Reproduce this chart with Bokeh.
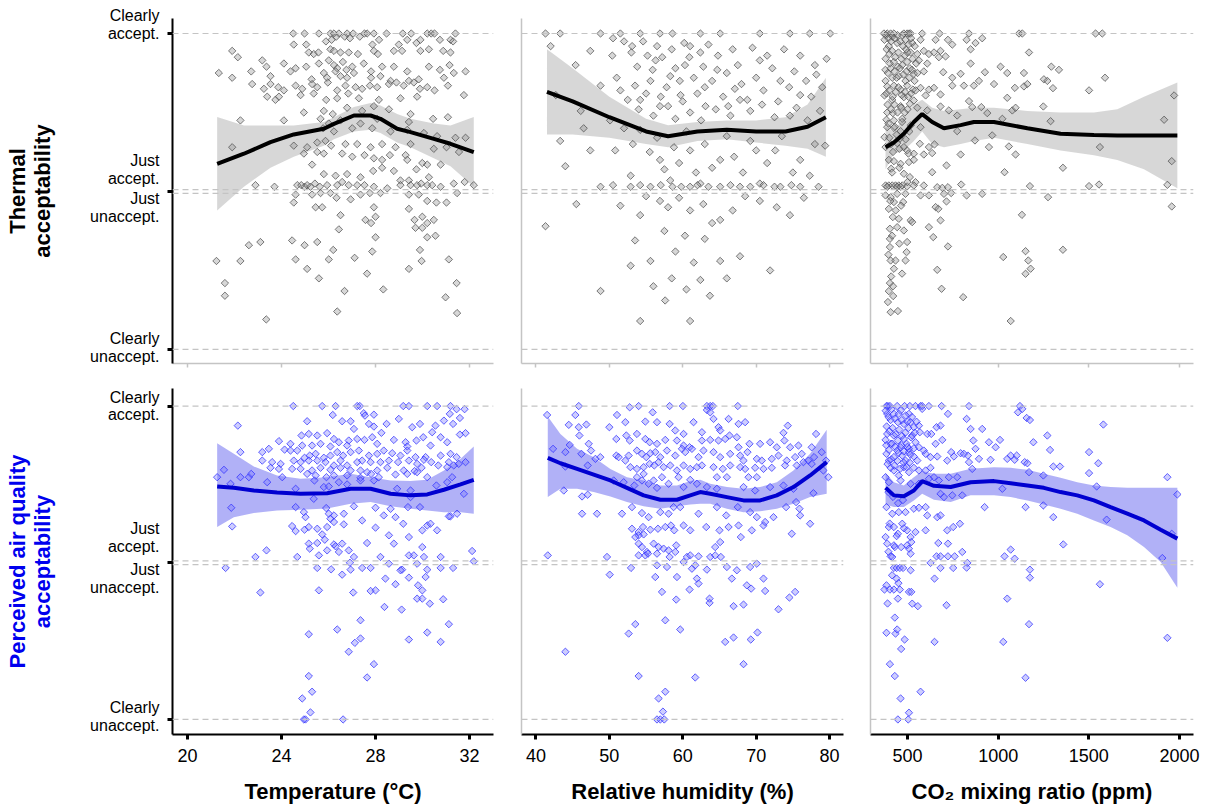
import math
from bokeh.plotting import figure
from bokeh.layouts import column, row
from bokeh.models import Range1d, LinearAxis, FixedTicker, Span
from bokeh.embed import file_html
from bokeh.resources import INLINE

FONT = "Liberation Sans"

# ---------------- data ----------------
temp_ticks = [20, 24, 28, 32]
rh_ticks = [40, 50, 60, 70, 80]
co2_ticks = [500, 1000, 1500, 2000]
x_titles = ["Temperature (°C)", "Relative humidity (%)", "CO₂ mixing ratio (ppm)"]
row_titles = ["Thermal\nacceptability", "Perceived air quality\nacceptability"]
level_labels = ["Clearly\naccept.", "Just\naccept.", "Just\nunaccept.", "Clearly\nunaccept."]
level_values = [1.0, 0.0, -1.0]
ref_levels = [1.0, 0.012, -0.012, -1.0]

# Top-left: temperature vs thermal acceptability
tl_pts = [(24.50,1.0),(24.98,1.0),(25.59,1.0),(26.08,1.0),(26.23,1.0),(26.44,1.0),(26.79,1.0),(27.05,1.0),(27.53,1.0),(27.64,1.0),(27.93,1.0),(28.47,1.0),(29.16,1.0),(29.52,1.0),(30.20,1.0),(30.37,1.0),(30.51,1.0),(31.40,1.0),
(24.52,0.93),(25.05,0.93),(25.89,0.95),(26.13,0.96),(26.33,0.98),(26.69,0.98),(26.91,0.97),(27.33,0.98),(27.87,0.93),(28.15,0.96),(28.99,0.93),(29.35,0.96),(29.74,0.94),(29.91,0.96),(30.74,0.96),(31.19,0.96),(31.30,0.95),
(21.90,0.89),(22.14,0.85),(25.16,0.88),(25.37,0.87),(25.57,0.88),(26.08,0.90),(26.23,0.89),(26.51,0.88),(26.86,0.88),(27.25,0.87),(27.93,0.89),(28.10,0.87),(28.78,0.89),(29.13,0.89),(29.91,0.89),(30.27,0.90),(30.88,0.89),(31.19,0.88),
(23.18,0.83),(23.36,0.79),(24.10,0.81),(24.60,0.78),(25.05,0.79),(25.59,0.81),(26.01,0.83),(26.23,0.80),(26.37,0.78),(26.61,0.82),(26.76,0.77),(27.01,0.79),(27.50,0.81),(27.81,0.76),(28.28,0.79),(28.78,0.79),(29.35,0.76),(30.27,0.79),(30.74,0.77),(31.15,0.80),
(21.33,0.75),(21.90,0.72),(22.71,0.76),(23.53,0.73),(24.38,0.76),(25.28,0.71),(25.80,0.75),(25.94,0.72),(26.30,0.76),(26.51,0.73),(26.79,0.72),(27.08,0.75),(27.81,0.72),(28.21,0.73),(28.64,0.70),(29.42,0.70),(29.84,0.71),(30.91,0.72),(31.33,0.75),(31.83,0.76),
(22.75,0.68),(23.25,0.65),(23.53,0.68),(23.86,0.66),(24.10,0.64),(24.60,0.67),(24.88,0.65),(25.30,0.68),(25.52,0.66),(25.97,0.69),(26.37,0.64),(26.72,0.67),(27.15,0.66),(27.43,0.65),(27.76,0.67),(28.07,0.66),(28.57,0.68),(28.89,0.69),(29.20,0.67),(29.63,0.69),(29.89,0.65),(30.20,0.66),(30.51,0.64),(31.08,0.67),
(23.39,0.60),(23.74,0.58),(23.89,0.60),(24.81,0.61),(25.37,0.62),(25.90,0.58),(26.37,0.59),(26.84,0.62),(27.29,0.59),(28.14,0.58),(29.06,0.59),(29.77,0.60),(31.76,0.61),
(24.95,0.50),(25.80,0.51),(26.18,0.49),(26.79,0.53),(27.43,0.51),(27.93,0.54),(28.57,0.52),(29.49,0.49),
(22.25,0.45),(24.10,0.45),(25.66,0.46),(26.01,0.43),(26.51,0.45),(27.36,0.43),(28.07,0.46),(29.42,0.44),(30.45,0.46),(31.08,0.47),
(25.77,0.40),(26.23,0.38),(27.01,0.40),(27.86,0.40),(28.64,0.38),(29.35,0.39),(30.06,0.37),(30.62,0.35),(31.40,0.34),(31.83,0.34),
(21.90,0.28),(24.52,0.29),(25.09,0.28),(25.52,0.31),(25.87,0.32),(26.11,0.29),(26.72,0.30),(27.22,0.30),(27.79,0.28),(28.28,0.30),(28.85,0.28),(29.49,0.30),(30.48,0.27),(31.02,0.28),
(24.95,0.24),(25.52,0.25),(25.80,0.24),(26.58,0.24),(27.01,0.22),(27.53,0.23),(27.93,0.21),(28.28,0.20),(28.61,0.23),(29.28,0.23),(29.35,0.20),(29.99,0.18),(30.20,0.17),(30.77,0.17),(31.55,0.25),
(25.30,0.17),(25.80,0.11),(26.30,0.10),(26.79,0.11),(27.36,0.09),(27.90,0.13),(28.28,0.15),(28.78,0.13),(29.06,0.07),(29.42,0.07),(29.74,0.14),(30.27,0.09),
(22.89,0.04),(23.70,0.03),(24.67,0.04),(24.84,0.04),(24.98,0.03),(25.09,0.04),(25.23,0.03),(25.42,0.05),(25.63,0.03),(25.94,0.04),(26.37,0.04),(26.58,0.06),(26.86,0.04),(27.22,0.04),(27.53,0.04),(27.93,0.03),(28.50,0.02),(29.06,0.04),(29.49,0.04),(29.77,0.04),(29.94,0.05),(30.20,0.04),(30.41,0.04),(30.77,0.03),(31.33,0.05),(31.79,0.06),(32.18,0.04),
(24.60,-0.02),(24.52,-0.07),(25.30,-0.02),(25.66,-0.01),(26.08,-0.01),(26.34,-0.04),(26.94,-0.05),(27.36,-0.02),(27.76,-0.01),(28.21,-0.01),(29.42,-0.02),(29.84,-0.02),(30.20,-0.06),(30.59,-0.07),(31.02,-0.07),(31.47,-0.01),
(25.45,-0.10),(25.73,-0.10),(26.51,-0.15),(27.57,-0.18),(27.81,-0.20),(28.00,-0.16),(27.93,-0.10),(29.42,-0.11),(29.66,-0.18),(29.99,-0.16),(30.20,-0.20),(29.70,-0.23),(29.99,-0.23),(30.48,-0.18),(26.44,-0.24),
(22.61,-0.34),(23.10,-0.32),(24.45,-0.31),(24.98,-0.34),(25.52,-0.32),(26.20,-0.37),(26.01,-0.43),(27.11,-0.42),(27.86,-0.38),(28.00,-0.29),(29.89,-0.37),(30.20,-0.29),(30.55,-0.28),(21.23,-0.44),(22.25,-0.44),(24.60,-0.43),(25.09,-0.49),(25.59,-0.55),(27.64,-0.52),(29.42,-0.49),(29.96,-0.44),(31.12,-0.43),
(21.59,-0.58),(21.59,-0.66),(23.35,-0.81),(26.68,-0.63),(26.37,-0.76),(28.33,-0.62),(30.98,-0.67),(31.45,-0.58),(31.47,-0.77)]
tl_cx = [21.26, 22.4, 23.53, 24.52, 25.8, 26.23, 27.08, 27.79, 28.21, 28.92, 29.49, 30.48, 31.19, 32.18]
tl_fit = [0.175, 0.239, 0.312, 0.361, 0.397, 0.428, 0.481, 0.481, 0.46, 0.397, 0.376, 0.333, 0.302, 0.249]
tl_hi = [0.471, 0.418, 0.418, 0.418, 0.44, 0.47, 0.534, 0.56, 0.545, 0.49, 0.46, 0.43, 0.418, 0.471]
tl_lo = [-0.12, 0.03, 0.15, 0.22, 0.29, 0.33, 0.38, 0.39, 0.37, 0.31, 0.28, 0.21, 0.16, 0.03]

# Top-middle: relative humidity vs thermal acceptability
tm_pts = [(41.3,1.0),(43.3,1.0),(48.8,1.0),(51.5,1.0),(54.2,1.0),(56.9,1.0),(58.6,1.0),(62.4,1.0),(65.1,1.0),(70.5,1.0),(74.6,1.0),(77.3,1.0),(80.1,1.0),
(42.0,0.92),(45.4,0.80),(47.4,0.89),(50.4,0.86),(53.1,0.92),(56.3,0.83),(58.3,0.73),(60.3,0.80),(62.4,0.88),(64.7,0.77),(67.1,0.65),(70.5,0.83),(73.3,0.70),(76.0,0.61),(78.0,0.80),(78.7,0.51),(42.7,0.61),(46.1,0.51),(48.8,0.67),(51.5,0.64),(54.2,0.58),(56.9,0.54),(59.7,0.61),(63.1,0.54),(66.2,0.54),(69.2,0.51),(74.6,0.48),(50.1,0.45),(55.6,0.70),(61.0,0.92),
(50.5,0.97),(52.0,0.95),(53.0,0.88),(53.8,0.79),(54.6,0.95),(55.2,0.86),(55.9,0.77),(56.5,0.92),(57.2,0.85),(57.8,0.66),(58.5,0.90),(59.0,0.78),(59.6,0.70),(60.2,0.94),(60.9,0.85),(61.5,0.72),(62.0,0.62),(62.8,0.79),(63.5,0.93),(64.0,0.70),(64.8,0.86),(65.5,0.60),(66.0,0.75),(66.8,0.90),(67.5,0.80),(68.0,0.68),(68.8,0.58),(69.5,0.91),(70.0,0.72),(71.0,0.64),(71.5,0.86),(72.2,0.78),(73.0,0.57),(73.8,0.90),(74.5,0.66),(75.2,0.76),(76.0,0.86),(76.8,0.70),(77.5,0.60),(78.2,0.74),(79.0,0.66),(79.6,0.84),
(51.0,0.72),(52.5,0.58),(53.5,0.67),(54.0,0.52),(55.0,0.62),(56.0,0.48),(57.0,0.60),(58.0,0.54),(59.0,0.46),(60.0,0.57),(61.0,0.50),(62.5,0.45),(63.0,0.66),(64.5,0.52),(66.5,0.48),(67.8,0.58),(70.8,0.55),(72.5,0.47),(75.5,0.53),(77.0,0.45),
(43.3,0.32),(47.4,0.26),(50.8,0.26),(54.2,0.39),(56.9,0.20),(61.0,0.26),(65.1,0.20),(69.2,0.32),(72.6,0.26),(76.0,0.20),(79.4,0.29),(52.9,0.10),(58.3,0.07),(62.4,0.05),(70.5,0.05),(77.3,0.10),
(52.0,0.40),(53.2,0.30),(55.5,0.25),(56.5,0.34),(57.5,0.14),(58.8,0.28),(59.5,0.18),(60.5,0.38),(61.8,0.12),(63.0,0.30),(64.0,0.15),(66.0,0.35),(67.0,0.22),(68.2,0.12),(70.0,0.26),(71.5,0.18),(73.5,0.35),(75.0,0.12),(78.0,0.30),(46.5,0.40),(44.0,0.16),
(48.8,0.03),(52.9,0.03),(55.6,0.03),(58.6,0.03),(61.0,0.03),(65.1,0.03),(69.2,0.03),(73.3,0.03),(76.0,0.03),(54.2,0.04),(57.0,0.04),(59.8,0.03),(62.0,0.04),(63.5,0.03),(66.5,0.04),(67.8,0.03),(71.0,0.04),(72.5,0.03),(74.8,0.04),(78.5,0.03),(50.5,0.04),
(41.3,-0.22),(51.5,-0.09),(54.2,-0.15),(56.9,-0.06),(61.0,-0.12),(65.1,-0.18),(70.5,-0.06),(74.6,-0.15),(53.5,-0.31),(55.6,-0.44),(60.3,-0.28),(62.4,-0.56),(67.8,-0.41),(71.9,-0.50),(52.9,-0.47),(57.6,-0.69),(61.0,-0.82),(63.7,-0.66),(54.2,-0.82),(48.8,-0.63),(65.1,-0.44),
(55.0,-0.03),(58.0,-0.10),(59.5,-0.04),(62.8,-0.08),(64.0,-0.20),(66.8,-0.12),(68.5,-0.03),(72.8,-0.10),(76.5,-0.04),(57.5,-0.25),(59.0,-0.38),(61.5,-0.45),(63.0,-0.30),(58.5,-0.55),(60.5,-0.62),(56.0,-0.60),(66.0,-0.55),(45.5,-0.08)]
tm_cx = [41.5, 45, 50, 55, 58, 62, 66, 70, 74, 77, 79.5]
tm_fit = [0.63, 0.57, 0.47, 0.38, 0.35, 0.38, 0.39, 0.38, 0.38, 0.41, 0.47]
tm_hi = [0.90, 0.78, 0.60, 0.46, 0.42, 0.44, 0.45, 0.45, 0.47, 0.55, 0.72]
tm_lo = [0.36, 0.36, 0.34, 0.30, 0.28, 0.32, 0.33, 0.31, 0.29, 0.27, 0.22]

# Top-right: CO2 vs thermal acceptability
tr_pts = [(370,1.0),(388,1.0),(407,1.0),(425,1.0),(480,1.0),(498,1.0),(517,1.0),(581,1.0),(677,1.0),(839,1.0),(1115,1.0),(1133,1.0),(1537,1.0),(1574,1.0),
(373,0.96),(397,0.92),(416,0.98),(443,0.94),(471,0.99),(489,0.96),(508,1.0),(526,0.94),(572,0.96),(517,0.88),(554,0.87),(590,0.89),(618,0.87),(646,0.88),(682,0.89),(710,0.855),(655,0.96),(723,0.96),(747,0.93),(826,0.96),(875,0.94),(848,0.90),(912,0.97),(1170,0.88),
(379,0.84),(403,0.81),(425,0.82),(447,0.79),(471,0.80),(498,0.82),(513,0.78),(535,0.745),(563,0.83),(590,0.76),(609,0.81),(673,0.85),(848,0.81),(697,0.755),(747,0.72),(793,0.745),(1013,0.79),(1050,0.75),(1142,0.75),(1293,0.79),(1335,0.77),(1589,0.72),(379,0.70),(416,0.72),(452,0.73),(489,0.70),(539,0.70),(894,0.70),(927,0.755),(1252,0.71),(1271,0.70),
(388,0.665),(425,0.67),(462,0.645),(498,0.67),(530,0.645),(572,0.656),(618,0.645),(646,0.656),(682,0.614),(747,0.67),(811,0.67),(866,0.67),(977,0.68),(1092,0.656),(1142,0.665),(1161,0.68),(1302,0.654),(1501,0.64),(373,0.608),(416,0.58),(480,0.597),(535,0.576),(600,0.608),(1050,0.593),
(388,0.50),(419,0.496),(462,0.54),(513,0.555),(554,0.53),(609,0.513),(682,0.538),(728,0.513),(774,0.481),(839,0.572),(857,0.534),(907,0.534),(940,0.496),(1023,0.46),(1078,0.513),(1096,0.53),(1249,0.538),(1289,0.445),(384,0.454),(425,0.45),(471,0.46),(1915,0.454),
(388,0.407),(425,0.403),(462,0.382),(517,0.418),(572,0.407),(774,0.382),(967,0.355),(373,0.344),(458,0.334),(1970,0.608),
(379,0.281),(407,0.298),(443,0.306),(480,0.281),(498,0.26),(535,0.239),(568,0.302),(618,0.281),(649,0.298),(590,0.234),(636,0.243),(793,0.234),(872,0.323),(949,0.281),(1059,0.285),(1096,0.234),(1561,0.281),(397,0.20),(425,0.192),(462,0.175),(508,0.186),(535,0.20),(1957,0.192),
(410,0.144),(480,0.112),(513,0.091),(544,0.059),(636,0.122),(715,0.165),(1035,0.122),(1357,0.15),(379,0.038),(397,0.038),(416,0.038),(434,0.038),(452,0.038),(471,0.038),(498,0.032),(535,0.038),(590,0.038),(664,0.027),(692,0.023),(723,0.027),(796,0.044),(1175,0.034),(1501,0.034),(1556,0.044),(1933,0.042),(388,0.03),(443,0.03),(462,0.03),
(379,-0.025),(407,-0.036),(443,-0.015),(489,-0.015),(572,-0.025),(618,-0.025),(701,-0.015),(741,-0.01),(826,-0.025),(912,-0.015),(1275,-0.036),(397,-0.11),(425,-0.067),(476,-0.067),(655,-0.099),(715,-0.063),(670,-0.11),(1957,-0.095),
(419,-0.162),(452,-0.173),(517,-0.183),(526,-0.194),(403,-0.236),(443,-0.226),(480,-0.247),(618,-0.226),(682,-0.183),(642,-0.289),(1131,-0.148),
(403,-0.30),(403,-0.352),(498,-0.32),(495,-0.384),(723,-0.348),(1357,-0.369),(407,-0.437),(434,-0.437),(489,-0.437),(425,-0.489),(664,-0.496),(1028,-0.415),(1151,-0.378),(1166,-0.437),(1179,-0.489),
(410,-0.538),(403,-0.58),(397,-0.631),(421,-0.662),(688,-0.616),(807,-0.669),(1151,-0.521),(407,-0.764),(447,-0.757),(1069,-0.82),
(382,0.99),(395,0.97),(410,0.95),(430,0.97),(445,0.99),(460,0.95),(475,0.92),(492,0.90),(505,0.93),(520,0.97),(540,0.92),(385,0.90),(400,0.87),(415,0.89),(432,0.85),(450,0.88),(466,0.84),(485,0.86),(500,0.88),(528,0.84),(548,0.81),(378,0.77),(392,0.75),(408,0.78),(428,0.76),(440,0.72),(458,0.78),(478,0.74),(495,0.76),(510,0.72),(525,0.77),(555,0.75),(384,0.62),(400,0.64),(418,0.60),(436,0.63),(450,0.66),(468,0.61),(486,0.63),(505,0.60),(520,0.62),(545,0.64),(390,0.55),(410,0.52),(428,0.55),(445,0.50),(465,0.53),(485,0.50),(500,0.52),(395,0.43),(430,0.41),(470,0.44),(510,0.38),(400,0.34),(440,0.36),(490,0.33),(420,0.25),(455,0.27),(505,0.24),(415,0.12),(455,0.15),(500,0.06),(405,-0.06),(435,-0.12),(465,-0.09),(415,-0.28),(455,-0.33),(395,-0.40),(470,-0.52),(420,-0.60),(392,-0.70)]
tr_cx = [379, 425, 480, 535, 581, 636, 701, 793, 866, 977, 1161, 1344, 1528, 1657, 1804, 1988]
tr_fit = [0.28, 0.31, 0.365, 0.44, 0.49, 0.44, 0.40, 0.42, 0.44, 0.44, 0.40, 0.365, 0.357, 0.355, 0.355, 0.355]
tr_hi = [0.41, 0.38, 0.47, 0.55, 0.58, 0.53, 0.51, 0.52, 0.53, 0.53, 0.51, 0.50, 0.50, 0.52, 0.60, 0.69]
tr_lo = [0.14, 0.24, 0.26, 0.32, 0.38, 0.30, 0.28, 0.30, 0.32, 0.34, 0.30, 0.26, 0.23, 0.20, 0.14, 0.02]

# Bottom-left: temperature vs perceived air quality acceptability
bl_pts = [(24.5,1.0),(25.73,1.0),(26.3,1.0),(27.22,1.0),(27.33,1.0),(29.18,1.0),(29.42,1.0),(30.2,1.0),(30.62,1.0),(31.19,1.0),(31.79,0.98),
(22.14,0.875),(25.09,0.903),(26.18,0.943),(26.58,0.903),(26.94,0.903),(27.5,0.954),(27.93,0.945),(27.55,0.939),(27.08,0.854),(27.72,0.886),(27.93,0.869),(28.47,0.886),(28.99,0.918),(29.56,0.865),(29.89,0.886),(30.55,0.875),(30.91,0.907),(31.16,0.95),(31.3,0.886),(31.59,0.924),(31.45,0.98),
(23.89,0.776),(24.85,0.812),(25.16,0.822),(25.52,0.812),(25.94,0.827),(26.23,0.79),(26.44,0.769),(26.86,0.78),(27.22,0.79),(27.53,0.784),(27.86,0.801),(28.25,0.829),(28.78,0.784),(29.28,0.769),(29.74,0.78),(30.03,0.801),(30.41,0.833),(30.77,0.801),(31.05,0.769),(31.59,0.818),(31.83,0.827),(24.38,0.759),(24.88,0.748),(25.3,0.748),(25.66,0.759),(26.08,0.742),(26.79,0.748),(28.07,0.759),(29.35,0.742),(30.34,0.748),
(22.25,0.706),(23.18,0.706),(23.46,0.727),(24.13,0.722),(24.38,0.716),(24.67,0.716),(24.98,0.67),(25.2,0.684),(25.45,0.695),(25.8,0.67),(26.08,0.684),(26.37,0.706),(26.62,0.684),(26.94,0.706),(27.29,0.716),(27.72,0.684),(28.07,0.695),(28.35,0.716),(28.71,0.699),(29.06,0.684),(29.35,0.716),(29.7,0.674),(30.13,0.674),(30.77,0.684),(31.19,0.695),(31.45,0.674),
(23.18,0.652),(23.6,0.642),(23.96,0.631),(24.52,0.652),(24.81,0.642),(25.16,0.652),(25.52,0.652),(25.87,0.642),(26.23,0.621),(26.51,0.652),(26.79,0.621),(27.22,0.642),(27.43,0.652),(27.79,0.642),(28.21,0.642),(28.57,0.652),(28.96,0.642),(29.42,0.652),(29.77,0.631),(30.06,0.657),(30.37,0.642),(30.67,0.621),(31.12,0.642),(31.54,0.631),(31.83,0.642),
(21.55,0.593),(22.25,0.546),(22.61,0.546),(23.53,0.606),(23.89,0.599),(24.45,0.599),(24.81,0.599),(25.3,0.589),(25.66,0.606),(26.08,0.593),(26.51,0.606),(26.94,0.589),(27.36,0.589),(27.64,0.578),(28.07,0.589),(28.5,0.606),(28.85,0.563),(29.2,0.589),(29.66,0.585),(29.96,0.606),(31.05,0.61),(31.33,0.621),(21.26,0.546),(24.03,0.546),(25.09,0.567),(25.45,0.557),(25.91,0.546),(26.23,0.557),(26.79,0.557),(27.36,0.542),(27.81,0.567),(28.14,0.546),(29.35,0.567),(29.77,0.578),(30.2,0.546),(31.26,0.546),
(23.39,0.514),(24.6,0.472),(25.4,0.525),(25.8,0.483),(26.01,0.487),(26.44,0.514),(26.79,0.5),(27.36,0.525),(27.93,0.525),(28.92,0.472),(29.49,0.461),(30.59,0.493),(31.05,0.514),(31.76,0.44),(21.83,0.504),(22.71,0.567),
(21.86,0.351),(24.6,0.355),(24.95,0.323),(25.37,0.408),(25.9,0.349),(26.01,0.313),(26.23,0.302),(26.65,0.313),(27.08,0.36),(28.0,0.351),(28.35,0.302),(28.64,0.344),(28.85,0.291),(29.38,0.355),(29.49,0.419),(29.89,0.355),(31.19,0.296),(31.47,0.313),(25.02,0.291),(26.08,0.281),
(21.9,0.232),(24.45,0.234),(24.6,0.202),(24.98,0.211),(25.16,0.228),(25.52,0.217),(25.73,0.181),(25.94,0.228),(26.23,0.26),(26.65,0.245),(27.43,0.27),(27.64,0.126),(28.0,0.224),(28.57,0.175),(28.78,0.122),(29.18,0.249),(29.42,0.164),(29.99,0.207),(30.2,0.238),(30.34,0.249),(30.62,0.207),(31.12,0.296),
(25.16,0.122),(25.52,0.126),(25.84,0.147),(26.23,0.117),(26.58,0.122),(26.86,0.079),(25.2,0.09),(25.59,0.047),(25.94,0.079),(26.3,0.105),(26.44,0.069),(27.08,0.037),(28.21,0.037),(29.42,0.047),(29.63,0.047),(29.99,0.1),(30.06,0.037),(30.77,0.037),(32.11,0.075),(22.89,0.037),(23.36,0.079),(24.67,0.037),
(21.62,-0.033),(25.52,-0.033),(26.11,-0.042),(26.58,-0.076),(26.91,0.0),(26.94,-0.044),(27.43,-0.033),(27.79,-0.033),(28.57,-0.006),(29.13,-0.044),(29.77,-0.006),(30.2,-0.044),(30.77,-0.033),(31.3,-0.033),(32.18,0.009),
(23.1,-0.19),(25.59,-0.176),(27.05,-0.19),(27.79,-0.18),(28.0,-0.176),(28.42,-0.101),(28.38,-0.282),(28.85,-0.137),(29.11,-0.299),(29.42,-0.095),(29.81,-0.144),(29.99,-0.176),(29.77,-0.229),(29.99,-0.229),(30.13,-0.091),(30.31,-0.261),(30.88,-0.233),(29.06,-0.048),
(25.16,-0.456),(26.37,-0.426),(27.36,-0.367),(27.12,-0.511),(27.36,-0.483),(26.86,-0.568),(29.42,-0.49),(30.2,-0.445),(30.77,-0.505),(31.12,-0.392),(27.93,-0.647),(27.64,-0.732),
(25.16,-0.723),(25.3,-0.823),(24.88,-0.866),(25.23,-0.955),(24.95,-1.0),(25.02,-1.0),(26.62,-1.0)]
bl_cx = [21.26, 21.97, 22.82, 23.81, 24.81, 25.94, 26.94, 27.79, 28.64, 29.49, 30.2, 30.91, 31.62, 32.18]
bl_fit = [0.487, 0.478, 0.461, 0.449, 0.44, 0.444, 0.472, 0.472, 0.44, 0.43, 0.436, 0.466, 0.5, 0.529]
bl_hi = [0.763, 0.695, 0.614, 0.557, 0.536, 0.546, 0.568, 0.546, 0.525, 0.521, 0.529, 0.589, 0.663, 0.742]
bl_lo = [0.228, 0.291, 0.317, 0.334, 0.338, 0.347, 0.376, 0.387, 0.36, 0.345, 0.334, 0.323, 0.323, 0.313]

# Bottom-middle: relative humidity vs perceived air quality acceptability
bm_pts = [(45.83,1.0),(53.99,1.0),(58.21,1.0),(60.02,1.0),(63.29,1.0),(63.74,1.0),(64.1,1.0),(67.5,1.0),(63.29,0.975),(63.74,0.96),
(41.52,0.943),(45.37,0.943),(44.47,0.88),(45.83,0.865),(46.87,0.882),(51.04,0.943),(52.18,0.897),(52.77,0.992),(54.9,0.901),(55.9,0.96),(56.49,0.897),(58.21,0.886),(58.98,0.844),(60.11,0.822),(61.47,0.897),(62.61,0.833),(64.19,0.918),(64.87,0.865),(66.24,0.918),(65.1,0.844),(67.6,0.886),(68.5,0.897),(74.31,0.875),(73.72,0.829),(78.16,0.822),
(45.92,0.812),(44.6,0.752),(47.19,0.759),(50.0,0.865),(50.95,0.79),(52.31,0.812),(53.76,0.822),(52.77,0.78),(54.9,0.79),(55.49,0.769),(56.49,0.759),(57.62,0.784),(59.21,0.78),(60.11,0.748),(60.93,0.737),(62.61,0.78),(63.74,0.784),(64.87,0.78),(65.78,0.79),(66.37,0.812),(67.37,0.801),(67.6,0.737),(69.09,0.759),(70.54,0.759),(71.9,0.769),(72.81,0.737),(73.85,0.78),(74.63,0.737),(75.76,0.748),(77.57,0.737),
(42.33,0.727),(44.01,0.706),(46.19,0.695),(47.5,0.716),(48.77,0.674),(50.95,0.684),(51.27,0.674),(52.63,0.684),(53.76,0.716),(54.44,0.695),(55.03,0.674),(55.58,0.699),(56.26,0.706),(56.94,0.674),(57.85,0.716),(58.98,0.684),(59.89,0.727),(60.34,0.706),(61.25,0.727),(62.15,0.674),(62.83,0.716),(64.19,0.706),(65.1,0.674),(66.46,0.695),(67.82,0.684),(68.28,0.652),(68.82,0.706),(70.09,0.663),(70.77,0.652),(72.13,0.663),(73.04,0.684),(74.17,0.652),(75.31,0.674),(76.21,0.695),(77.12,0.652),(77.89,0.674),(78.93,0.706),(79.52,0.652),
(47.05,0.621),(44.01,0.614),(48.1,0.663),(52.18,0.652),(52.86,0.61),(53.76,0.599),(54.67,0.61),(55.49,0.631),(56.12,0.621),(56.71,0.642),(57.39,0.61),(58.3,0.621),(59.21,0.589),(60.11,0.621),(61.02,0.599),(61.93,0.61),(62.61,0.621),(64.19,0.61),(65.46,0.599),(66.46,0.621),(67.82,0.61),(68.5,0.599),(69.86,0.606),(71.0,0.599),(72.13,0.606),(73.94,0.621),(75.53,0.621),(76.44,0.642),(77.57,0.631),(79.16,0.589),(79.84,0.546),(53.76,0.546),(54.67,0.567),(56.03,0.525),(57.17,0.546),(59.43,0.546),(61.02,0.529),(64.65,0.546),(66.01,0.546),(68.96,0.546),(70.09,0.546),
(50.59,0.525),(51.95,0.514),(53.4,0.493),(54.44,0.525),(55.35,0.504),(56.49,0.478),(58.07,0.504),(60.11,0.483),(61.93,0.504),(63.29,0.483),(64.65,0.472),(68.28,0.483),(69.86,0.461),(71.9,0.483),(73.72,0.493),(75.08,0.472),(43.79,0.461),(46.28,0.423),(47.05,0.434),(77.8,0.444),
(46.28,0.313),(48.32,0.313),(51.72,0.313),(53.08,0.355),(54.44,0.317),(55.35,0.291),(56.94,0.323),(58.07,0.313),(58.75,0.355),(59.66,0.355),(62.15,0.313),(64.65,0.355),(65.92,0.302),(67.5,0.355),(69.18,0.323),(70.09,0.291),(72.36,0.291),(74.08,0.355),(75.44,0.387),(75.9,0.345),(75.99,0.302),
(53.08,0.217),(53.54,0.164),(53.99,0.196),(54.58,0.228),(55.58,0.211),(56.62,0.217),(57.62,0.228),(58.39,0.238),(58.84,0.207),(60.11,0.238),(61.02,0.207),(63.2,0.228),(65.01,0.207),(66.24,0.228),(67.6,0.238),(67.91,0.164),(69.41,0.207),(71.0,0.238),(71.22,0.26),(74.85,0.185),(77.35,0.249),(53.99,0.175),(54.67,0.181),
(53.99,0.122),(54.44,0.1),(55.12,0.069),(56.03,0.122),(56.71,0.1),(57.39,0.09),(58.07,0.079),(59.11,0.111),(58.98,0.069),(58.21,0.037),(53.99,0.047),(54.9,0.047),(55.26,0.058),(56.49,0.058),(60.57,0.037),(61.02,0.047),(62.15,0.041),(63.74,0.037),(64.42,0.047),(65.19,0.037),(49.68,0.037),(41.61,0.047),(64.42,0.1),(65.1,0.132),
(52.95,-0.033),(56.49,-0.016),(57.85,-0.027),(60.11,0.005),(61.25,-0.038),(61.7,-0.016),(63.29,-0.044),(66.01,-0.027),(67.37,-0.048),(69.18,-0.027),(70.09,-0.006),(50.05,-0.076),(56.26,-0.091),(59.21,-0.091),
(57.17,-0.186),(59.11,-0.235),(60.93,-0.171),(61.93,-0.101),(62.15,-0.133),(63.65,-0.229),(63.65,-0.256),(66.69,-0.101),(66.92,-0.277),(68.28,-0.267),(68.73,-0.144),(69.32,-0.165),(71.0,-0.101),(71.22,-0.18),(73.04,-0.297),(74.53,-0.222),(75.31,-0.186),
(52.63,-0.452),(53.54,-0.392),(57.62,-0.367),(59.66,-0.426),(65.78,-0.505),(66.92,-0.477),(68.28,-0.647),(69.27,-0.49),(70.18,-0.445),(44.01,-0.568),(53.99,-0.723),(61.7,-0.732),
(57.62,-0.823),(56.71,-0.866),(57.3,-0.95),(56.49,-1.0),(56.94,-1.0),(57.48,-1.0)]
bm_cx = [41.61, 43.33, 45.6, 47.87, 50.14, 52.4, 54.67, 56.94, 59.21, 61.02, 62.38, 63.74, 66.01, 68.28, 70.54, 72.81, 75.08, 77.35, 79.61]
bm_fit = [0.669, 0.635, 0.599, 0.563, 0.525, 0.478, 0.43, 0.402, 0.402, 0.43, 0.451, 0.44, 0.419, 0.398, 0.398, 0.43, 0.483, 0.557, 0.642]
bm_hi = [0.933, 0.822, 0.727, 0.674, 0.599, 0.546, 0.525, 0.493, 0.493, 0.521, 0.529, 0.504, 0.483, 0.472, 0.483, 0.514, 0.589, 0.695, 0.848]
bm_lo = [0.419, 0.472, 0.472, 0.451, 0.423, 0.387, 0.36, 0.345, 0.36, 0.372, 0.376, 0.376, 0.345, 0.323, 0.328, 0.345, 0.376, 0.419, 0.44]

# Bottom-right: CO2 vs perceived air quality acceptability
br_pts = [(384,1.0),(392,1.0),(403,1.0),(443,1.0),(484,1.0),(513,1.0),(544,1.0),(572,1.0),(581,1.0),(618,1.0),(688,1.0),(839,1.0),(1120,1.0),(1109,0.96),
(388,0.95),(407,0.911),(425,0.95),(447,0.897),(462,0.971),(480,0.886),(508,0.95),(517,0.897),(535,0.865),(563,0.875),(581,0.982),(568,0.833),(609,0.822),(723,0.95),(826,0.918),(848,0.854),(912,0.854),(1133,0.982),(1157,0.924),(1175,0.911),(1580,0.882),(682,0.875),(660,0.865),
(379,0.784),(388,0.822),(407,0.759),(425,0.812),(447,0.78),(462,0.737),(480,0.79),(495,0.759),(508,0.727),(526,0.812),(544,0.769),(563,0.737),(590,0.716),(631,0.822),(655,0.759),(692,0.784),(741,0.706),(793,0.699),(833,0.684),(863,0.78),(875,0.727),(949,0.769),(1010,0.784),(986,0.737),(1194,0.769),(1271,0.812),(1286,0.72),(1501,0.706),
(384,0.695),(397,0.652),(425,0.674),(443,0.716),(471,0.684),(489,0.652),(508,0.706),(535,0.678),(554,0.652),(600,0.695),(627,0.674),(664,0.678),(719,0.652),(756,0.678),(811,0.695),(839,0.642),(894,0.663),(958,0.657),(1050,0.663),(1069,0.684),(1091,0.657),(1146,0.642),(1102,0.684),(1161,0.635),(1304,0.614),(1341,0.614),(1552,0.635),
(379,0.546),(407,0.606),(425,0.589),(452,0.557),(480,0.61),(508,0.578),(535,0.606),(563,0.589),(600,0.589),(627,0.606),(646,0.546),(673,0.525),(728,0.546),(774,0.546),(857,0.599),(1170,0.578),(1249,0.557),(1501,0.572),(1933,0.546),(397,0.514),(462,0.525),(517,0.504),(563,0.504),(618,0.536),
(384,0.355),(416,0.313),(452,0.323),(489,0.323),(535,0.345),(563,0.351),(600,0.355),(609,0.302),(682,0.44),(701,0.419),(747,0.43),(802,0.43),(925,0.355),(1023,0.472),(1151,0.355),(1249,0.366),(1988,0.436),(1543,0.487),(1304,0.291),(664,0.291),(682,0.302),
(379,0.164),(397,0.228),(425,0.228),(447,0.185),(471,0.249),(498,0.207),(517,0.164),(544,0.196),(600,0.207),(719,0.207),(752,0.228),(789,0.249),(1598,0.275),(388,0.122),(425,0.111),(465,0.1),(498,0.111),(521,0.132),(1359,0.117),(1957,0.185),
(407,0.041),(416,0.037),(508,0.09),(517,0.058),(670,0.126),(723,0.122),(660,0.041),(682,0.041),(723,0.041),(760,0.041),(802,0.069),(1035,0.041),(1069,0.084),(1091,0.026),(1905,0.03),(425,-0.033),(440,-0.033),(458,-0.033),(476,-0.033),(517,-0.048),(627,-0.001),(682,-0.033),(752,-0.033),(830,-0.001),(826,-0.031),(1175,-0.044),
(384,-0.144),(373,-0.171),(403,-0.171),(440,-0.101),(425,-0.171),(458,-0.171),(447,-0.229),(508,-0.186),(521,-0.186),(649,-0.101),(526,-0.261),(557,-0.277),(715,-0.271),(1050,-0.229),(1561,-0.137),(1175,-0.095),
(384,-0.447),(434,-0.452),(443,-0.426),(484,-0.49),(649,-0.505),(1028,-0.505),(1170,-0.392),(1933,-0.479),(403,-0.647),(430,-0.723),(572,-0.823),(462,-0.866),(508,-0.957),(447,-1.0),(504,-1.0),(1151,-0.734),
(380,0.97),(395,0.93),(412,0.98),(430,0.92),(452,0.95),(468,0.91),(490,0.94),(500,0.90),(525,0.93),(550,0.90),(385,0.87),(400,0.84),(418,0.86),(435,0.82),(455,0.85),(470,0.81),(488,0.83),(505,0.86),(520,0.80),(540,0.83),(383,0.75),(398,0.72),(415,0.76),(432,0.74),(450,0.70),(466,0.75),(480,0.71),(500,0.74),(515,0.69),(535,0.73),(390,0.63),(410,0.66),(428,0.62),(445,0.65),(460,0.60),(478,0.64),(495,0.61),(512,0.64),(395,0.45),(420,0.42),(448,0.38),(475,0.40),(402,0.25),(440,0.17),(480,0.22),(395,0.07),(430,0.10),(415,-0.08),(450,-0.13),(390,-0.26),(430,-0.35),(465,-0.55)]
br_cx = [379, 425, 480, 535, 581, 646, 738, 848, 977, 1069, 1161, 1252, 1344, 1436, 1528, 1620, 1712, 1804, 1896, 1988]
br_fit = [0.478, 0.43, 0.425, 0.461, 0.521, 0.491, 0.483, 0.514, 0.521, 0.508, 0.493, 0.478, 0.451, 0.43, 0.398, 0.355, 0.313, 0.27, 0.211, 0.154]
br_hi = [0.572, 0.514, 0.493, 0.546, 0.585, 0.568, 0.568, 0.6, 0.61, 0.606, 0.593, 0.568, 0.542, 0.514, 0.493, 0.483, 0.478, 0.478, 0.478, 0.478]
br_lo = [0.372, 0.355, 0.355, 0.398, 0.44, 0.402, 0.387, 0.43, 0.43, 0.419, 0.398, 0.372, 0.345, 0.313, 0.27, 0.228, 0.175, 0.1, 0.005, -0.159]

# ---------------- layout constants ----------------
YR_TOP = (-1.089, 1.095)
YR_BOT = (-1.096, 1.112)
XR = [(19.36, 33.02), (38.03, 81.9), (296, 2077)]
X_TICKS = [temp_ticks, rh_ticks, co2_ticks]
WIDTHS = [507, 350, 354]
BORDER_L = [172, 14, 13]
BORDER_R = [14, 14, 18]
LABEL_POS = {0: [1.057, 0.139, -0.104, -0.987], 1: [1.073, 0.159, -0.099, -0.981]}

STYLES = {
    0: dict(pt_line="#505050", pt_fill="#8c8c8c", band="#d3d3d3", curve="black", title="black"),
    1: dict(pt_line="#3030ff", pt_fill="#6f6fff", band="#a8a8f6", curve="#0000d0", title="#0000ee"),
}


def hide_labels(ax, ticks):
    ax.major_label_overrides = {t: "" for t in ticks}
    ax.major_label_text_color = None
    ax.major_label_text_font_size = "8px"
    ax.major_label_standoff = 0


def make_panel(rowi, col, pts, cx, cfit, clo, chi):
    top = rowi == 0
    st = STYLES[rowi]
    p = figure(width=WIDTHS[col], height=388 if top else 422,
               x_range=Range1d(*XR[col]), y_range=Range1d(*(YR_TOP if top else YR_BOT)),
               output_backend="svg", toolbar_location=None,
               min_border_left=BORDER_L[col], min_border_right=BORDER_R[col],
               min_border_top=18 if top else 0, min_border_bottom=25 if top else 76)
    p.outline_line_color = None
    p.xgrid.visible = False
    p.ygrid.visible = False
    p.background_fill_color = "white"
    p.border_fill_color = "white"

    for lv in ref_levels:
        p.add_layout(Span(location=lv, dimension="width", line_color="#c4c4c4",
                          line_dash="6 4", line_width=1.2))

    p.varea(x=cx, y1=clo, y2=chi, fill_color=st["band"], fill_alpha=0.9)
    p.scatter([q[0] for q in pts], [q[1] for q in pts], marker="square", angle=math.pi / 4,
              size=5.2, line_color=st["pt_line"], line_alpha=0.75, line_width=1,
              fill_color=st["pt_fill"], fill_alpha=0.35)
    p.line(cx, cfit, line_width=4, line_color=st["curve"])

    # x axis
    xa = p.xaxis[0]
    xa.ticker = FixedTicker(ticks=X_TICKS[col])
    xa.minor_tick_line_color = None
    xa.major_tick_in = 0
    if top:
        xa.axis_line_color = "#c4c4c4"
        xa.axis_line_width = 1.5
        xa.major_tick_line_color = "#c4c4c4"
        xa.major_tick_line_width = 1.5
        xa.major_tick_out = 4
        hide_labels(xa, X_TICKS[col])
    else:
        xa.axis_line_color = "black"
        xa.axis_line_width = 2
        xa.major_tick_line_color = "black"
        xa.major_tick_line_width = 3
        xa.major_tick_out = 5
        xa.major_label_standoff = 9
        xa.major_label_text_font = FONT
        xa.major_label_text_font_size = "18px"
        xa.major_label_text_color = "black"
        xa.axis_label = x_titles[col]
        xa.axis_label_text_font = FONT
        xa.axis_label_text_font_size = "22px"
        xa.axis_label_text_font_style = "bold"
        xa.axis_label_text_color = "black"
        xa.axis_label_standoff = 14

    # y axis
    ya = p.yaxis[0]
    ya.minor_tick_line_color = None
    ya.major_tick_in = 0
    if col == 0:
        ya.ticker = FixedTicker(ticks=level_values)
        hide_labels(ya, level_values)
        ya.axis_line_color = "black"
        ya.axis_line_width = 2
        ya.major_tick_line_color = "black"
        ya.major_tick_line_width = 3
        ya.major_tick_out = 5
        pos = LABEL_POS[rowi]
        lab = LinearAxis(ticker=FixedTicker(ticks=pos),
                         major_label_overrides={pos[i]: level_labels[i] for i in range(4)},
                         axis_line_color=None, major_tick_line_color=None,
                         minor_tick_line_color=None, major_tick_out=0, major_tick_in=0,
                         major_label_standoff=8, major_label_text_font=FONT,
                         major_label_text_font_size="16px", major_label_text_color="black",
                         major_label_text_line_height=1.05,
                         axis_label=row_titles[rowi], axis_label_text_font=FONT,
                         axis_label_text_font_size="22px", axis_label_text_font_style="bold",
                         axis_label_text_color=st["title"], axis_label_standoff=32,
                         axis_label_text_line_height=1.0)
        p.add_layout(lab, "left")
    else:
        ya.ticker = FixedTicker(ticks=[])
        ya.axis_line_color = "#c4c4c4"
        ya.axis_line_width = 1.5
        ya.major_tick_line_color = None
        ya.major_tick_out = 0
        ya.major_label_text_color = None
        ya.major_label_standoff = 0
    return p


panels_top = [
    make_panel(0, 0, tl_pts, tl_cx, tl_fit, tl_lo, tl_hi),
    make_panel(0, 1, tm_pts, tm_cx, tm_fit, tm_lo, tm_hi),
    make_panel(0, 2, tr_pts, tr_cx, tr_fit, tr_lo, tr_hi),
]
panels_bot = [
    make_panel(1, 0, bl_pts, bl_cx, bl_fit, bl_lo, bl_hi),
    make_panel(1, 1, bm_pts, bm_cx, bm_fit, bm_lo, bm_hi),
    make_panel(1, 2, br_pts, br_cx, br_fit, br_lo, br_hi),
]

layout = column(row(*panels_top, spacing=0), row(*panels_bot, spacing=0), spacing=0)
open("out.html", "w").write(file_html(layout, INLINE))
